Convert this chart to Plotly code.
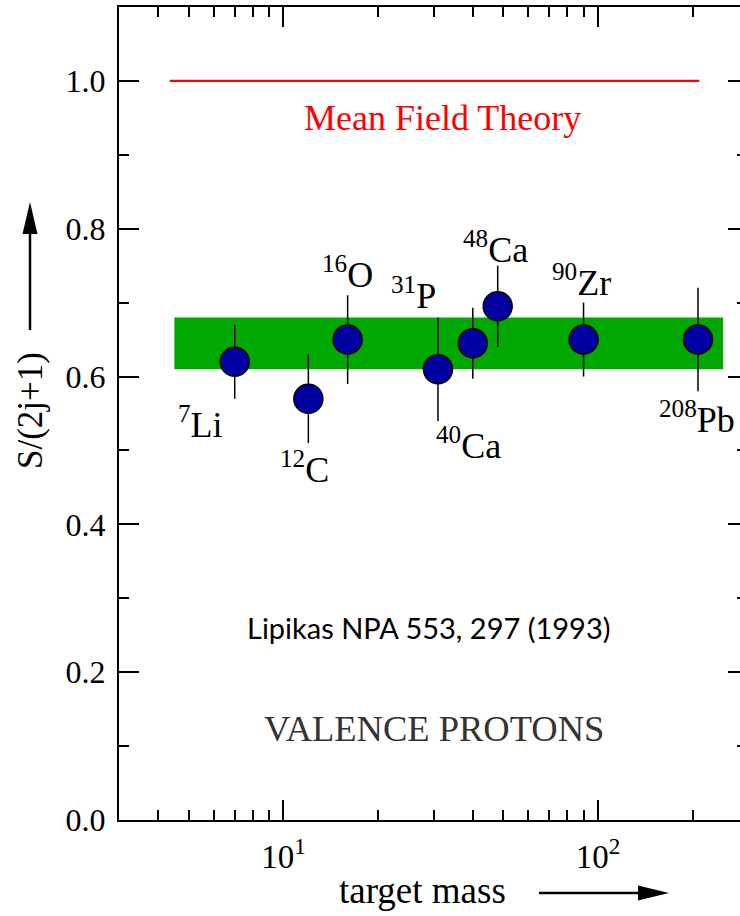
import math
import plotly.graph_objects as go

# ---- data ----
nuclei = ["7Li", "12C", "16O", "31P", "40Ca", "48Ca", "90Zr", "208Pb"]
mass_numbers = ["7", "12", "16", "31", "40", "48", "90", "208"]
elements = ["Li", "C", "O", "P", "Ca", "Ca", "Zr", "Pb"]
target_mass = [7, 12, 16, 31, 40, 48, 90, 208]
spec_factor = [0.62, 0.57, 0.65, 0.61, 0.645, 0.695, 0.65, 0.65]
spec_err = [0.05, 0.06, 0.06, 0.07, 0.048, 0.055, 0.05, 0.07]

band_x = [4.5, 250]
band_y = [0.61, 0.68]
mft_x = [4.35, 210]
mft_y = [1.0, 1.0]

y_ticks = [0.0, 0.2, 0.4, 0.6, 0.8, 1.0]
y_ticktext = ["0.0", "0.2", "0.4", "0.6", "0.8", "1.0"]
x_ticks = [10, 100]
x_ticktext = ["10<sup>1</sup>", "10<sup>2</sup>"]
x_minor = [4, 5, 6, 7, 8, 9, 20, 30, 40, 50, 60, 70, 80, 90, 200]

# ---- layout geometry ----
W, H = 740, 916
ML, MR, MT, MB = 119, 0, 7, 96
PW, PH = W - ML - MR, H - MT - MB
XR = [math.log10(3), math.log10(3) + PW / 314.5]
YR = [0, 1.1]


def px(x):
    return (x - ML) / PW


def py(y):
    return (H - MB - y) / PH


# label pixel offsets relative to each point (dx, dy; dy positive = down)
label_offsets = [(-34, 61), (-4, 69), (0, -67), (-24, -76), (-4, 100), (-2, -59), (-2, -59), (-1, 78)]

SERIF = "Liberation Serif"

fig = go.Figure()

fig.add_trace(go.Scatter(
    x=[band_x[0], band_x[1], band_x[1], band_x[0], band_x[0]],
    y=[band_y[0], band_y[0], band_y[1], band_y[1], band_y[0]],
    mode="lines", fill="toself", fillcolor="#00a800",
    line=dict(width=0, color="#00a800"), hoverinfo="skip", showlegend=False))

fig.add_trace(go.Scatter(
    x=mft_x, y=mft_y, mode="lines", line=dict(color="#ff0000", width=2.2),
    showlegend=False))

fig.add_trace(go.Scatter(
    x=target_mass, y=spec_factor, mode="markers", text=nuclei,
    marker=dict(size=29, color="#0000a0", line=dict(color="black", width=1.5)),
    error_y=dict(type="data", array=spec_err, visible=True, color="black",
                 thickness=1.5, width=0),
    showlegend=False))

# dummy traces so the mirrored axes get drawn
fig.add_trace(go.Scatter(x=[target_mass[0]], y=[spec_factor[0]], xaxis="x2", yaxis="y",
                         mode="markers", marker=dict(opacity=0), hoverinfo="skip", showlegend=False))
fig.add_trace(go.Scatter(x=[target_mass[0]], y=[spec_factor[0]], xaxis="x", yaxis="y2",
                         mode="markers", marker=dict(opacity=0), hoverinfo="skip", showlegend=False))

annotations = []
for i in range(len(nuclei)):
    dx, dy = label_offsets[i]
    annotations.append(dict(
        x=math.log10(target_mass[i]), y=spec_factor[i], xref="x", yref="y",
        text="<sup>%s</sup>%s" % (mass_numbers[i], elements[i]),
        showarrow=False, xshift=dx, yshift=-dy,
        font=dict(family=SERIF, size=36, color="black"),
        xanchor="center", yanchor="middle"))

annotations += [
    dict(x=px(442), y=py(118), xref="paper", yref="paper", text="Mean Field Theory",
         showarrow=False, font=dict(family=SERIF, size=36, color="#ff0000"),
         xanchor="center", yanchor="middle"),
    dict(x=px(429), y=py(627), xref="paper", yref="paper", text="Lipikas NPA 553, 297 (1993)",
         showarrow=False, font=dict(family="Lato", size=29, color="black"),
         xanchor="center", yanchor="middle"),
    dict(x=px(434), y=py(728), xref="paper", yref="paper", text="VALENCE PROTONS",
         showarrow=False, font=dict(family=SERIF, size=36.5, color="#333333"),
         xanchor="center", yanchor="middle"),
    dict(x=px(422), y=py(890), xref="paper", yref="paper", text="target mass",
         showarrow=False, font=dict(family=SERIF, size=37, color="black"),
         xanchor="center", yanchor="middle"),
    dict(x=px(30), y=py(411), xref="paper", yref="paper", text="S/(2j+1)",
         showarrow=False, textangle=-90, font=dict(family=SERIF, size=35, color="black"),
         xanchor="center", yanchor="middle"),
]

shapes = [
    # x-title arrow
    dict(type="line", xref="paper", yref="paper", x0=px(539), x1=px(642), y0=py(893), y1=py(893),
         line=dict(color="black", width=2.5)),
    dict(type="path", xref="paper", yref="paper", fillcolor="black", line=dict(width=0),
         path="M %f %f L %f %f L %f %f Z" % (px(669), py(893), px(638), py(885.5), px(638), py(900.5))),
    # y-title arrow
    dict(type="line", xref="paper", yref="paper", x0=px(30), x1=px(30), y0=py(330), y1=py(230),
         line=dict(color="black", width=2.5)),
    dict(type="path", xref="paper", yref="paper", fillcolor="black", line=dict(width=0),
         path="M %f %f L %f %f L %f %f Z" % (px(30), py(202), px(22.5), py(234), px(37.5), py(234))),
]

ytickfont = dict(family=SERIF, size=32, color="black")
xtickfont = dict(family=SERIF, size=33, color="black")

fig.update_layout(
    width=W, height=H,
    margin=dict(l=ML, r=MR, t=MT, b=MB, pad=0),
    paper_bgcolor="white", plot_bgcolor="white",
    showlegend=False,
    annotations=annotations, shapes=shapes,
    xaxis=dict(type="log", range=XR, tickmode="array", tickvals=x_ticks, ticktext=x_ticktext,
               ticks="inside", ticklen=20, tickwidth=1.5, tickcolor="black",
               showline=True, linecolor="black", linewidth=2, showgrid=False, zeroline=False,
               tickfont=xtickfont, ticklabelstandoff=6,
               minor=dict(tickmode="array", tickvals=x_minor, ticks="inside", ticklen=10,
                          tickwidth=1.5, tickcolor="black", showgrid=False)),
    xaxis2=dict(type="log", range=XR, overlaying="x", side="top", anchor="y",
                tickmode="array", tickvals=x_ticks, showticklabels=False,
                ticks="inside", ticklen=20, tickwidth=1.5, tickcolor="black",
                showline=True, linecolor="black", linewidth=2, showgrid=False, zeroline=False,
                minor=dict(tickmode="array", tickvals=x_minor, ticks="inside", ticklen=10,
                           tickwidth=1.5, tickcolor="black", showgrid=False)),
    yaxis=dict(range=YR, tickmode="array", tickvals=y_ticks, ticktext=y_ticktext,
               ticks="inside", ticklen=20, tickwidth=1.5, tickcolor="black",
               showline=True, linecolor="black", linewidth=2, showgrid=False, zeroline=False,
               tickfont=ytickfont, ticklabelstandoff=5,
               minor=dict(dtick=0.1, ticks="inside", ticklen=10, tickwidth=1.5,
                          tickcolor="black", showgrid=False)),
    yaxis2=dict(range=YR, overlaying="y", side="right", anchor="x",
                tickmode="array", tickvals=y_ticks, showticklabels=False,
                ticks="inside", ticklen=12, tickwidth=1.5, tickcolor="black",
                showline=False, showgrid=False, zeroline=False,
                minor=dict(dtick=0.1, ticks="inside", ticklen=3, tickwidth=1.5,
                           tickcolor="black", showgrid=False)),
)

fig.write_html("out.html")
